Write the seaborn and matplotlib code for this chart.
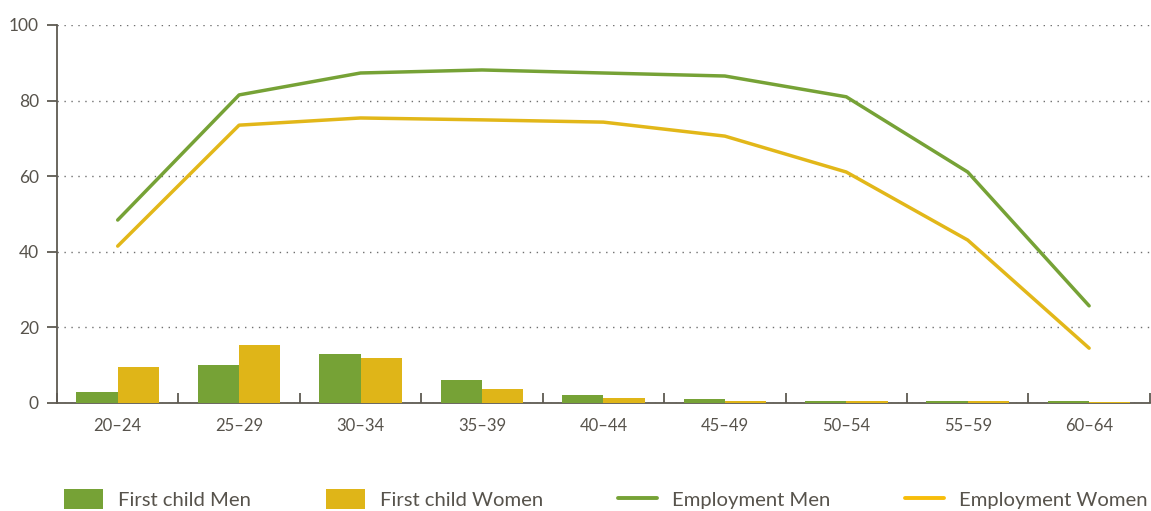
import numpy as np
import pandas as pd
import matplotlib
matplotlib.use("Agg")
import matplotlib.pyplot as plt
import seaborn as sns
from matplotlib.patches import Patch
from matplotlib.lines import Line2D

age_groups = ["20–24", "25–29", "30–34", "35–39", "40–44", "45–49", "50–54", "55–59", "60–64"]
first_child_men = [3.0, 10.0, 13.0, 6.1, 2.1, 1.0, 0.5, 0.5, 0.5]
first_child_women = [9.5, 15.3, 11.9, 3.7, 1.3, 0.5, 0.5, 0.5, 0.3]
employment_men = [48.4, 81.5, 87.3, 88.1, 87.3, 86.5, 81.0, 61.1, 25.7]
employment_women = [41.5, 73.5, 75.4, 74.9, 74.3, 70.6, 61.1, 43.1, 14.5]
y_ticks = [0, 20, 40, 60, 80, 100]

GREEN = "#76a236"
YELLOW = "#dfb518"
LINE_YELLOW = "#e2b719"
TEXT = "#57534c"
AXIS = "#5e5a52"

sns.set_theme(style="white")
plt.rcParams["font.family"] = ["Lato", "DejaVu Sans"]

bars = pd.DataFrame({
    "age": age_groups * 2,
    "value": first_child_men + first_child_women,
    "series": ["First child Men"] * len(age_groups) + ["First child Women"] * len(age_groups),
})
lines = pd.DataFrame({
    "age": age_groups * 2,
    "value": employment_men + employment_women,
    "series": ["Employment Men"] * len(age_groups) + ["Employment Women"] * len(age_groups),
})

fig = plt.figure(figsize=(11.51, 5.11), dpi=100)
ax = fig.add_axes([0.0495, 0.2114, 0.9495, 0.7397])

sns.barplot(data=bars, x="age", y="value", hue="series", order=age_groups,
            palette={"First child Men": GREEN, "First child Women": YELLOW},
            width=0.68, gap=0, saturation=1, ax=ax, legend=False, zorder=3,
            edgecolor="none", linewidth=0)

positions = {a: i for i, a in enumerate(age_groups)}
lines["pos"] = lines["age"].map(positions)
sns.lineplot(data=lines, x="pos", y="value", hue="series",
             palette={"Employment Men": GREEN, "Employment Women": LINE_YELLOW},
             linewidth=2.5, ax=ax, legend=False, zorder=4, sort=False)

ax.set_xlim(-0.5, len(age_groups) - 0.5)
ax.set_ylim(0, 100)
ax.set_yticks(y_ticks)
ax.set_xticks(range(len(age_groups)))
ax.set_xticklabels(age_groups)
ax.set_xticks(np.arange(-0.5, len(age_groups), 1.0), minor=True)
ax.set_xlabel("")
ax.set_ylabel("")

for s in ["top", "right"]:
    ax.spines[s].set_visible(False)
for s in ["left", "bottom"]:
    ax.spines[s].set_color(AXIS)
    ax.spines[s].set_linewidth(1.3)
    ax.spines[s].set_zorder(2)

ax.yaxis.grid(True, linestyle=(0, (1, 4)), color="#6f6f6f", linewidth=1.0, zorder=0)
ax.set_axisbelow(True)

ax.tick_params(axis="x", which="major", length=0, pad=11, labelsize=12, labelcolor=TEXT)
ax.tick_params(axis="x", which="minor", direction="in", length=7, width=1.3, color=AXIS,
               bottom=True)
ax.tick_params(axis="y", which="major", direction="out", length=7, width=1.3, color=AXIS,
               pad=6, labelsize=12.5, labelcolor=TEXT, left=True)

handles = [
    Patch(facecolor=GREEN, edgecolor="none", label="First child Men"),
    Patch(facecolor=YELLOW, edgecolor="none", label="First child Women"),
    Line2D([], [], color=GREEN, linewidth=2.8, label="Employment Men"),
    Line2D([], [], color="#f7bd0a", linewidth=2.8, label="Employment Women"),
]
leg = fig.legend(handles=handles, loc="lower left", bbox_to_anchor=(0.054, 0.0), ncol=4,
                 frameon=False, fontsize=14.6, handlelength=1.92, handleheight=1.08,
                 handletextpad=0.74, columnspacing=3.7, borderpad=0.1, borderaxespad=0)
for t in leg.get_texts():
    t.set_color(TEXT)

fig.savefig("out.png", dpi=100)
